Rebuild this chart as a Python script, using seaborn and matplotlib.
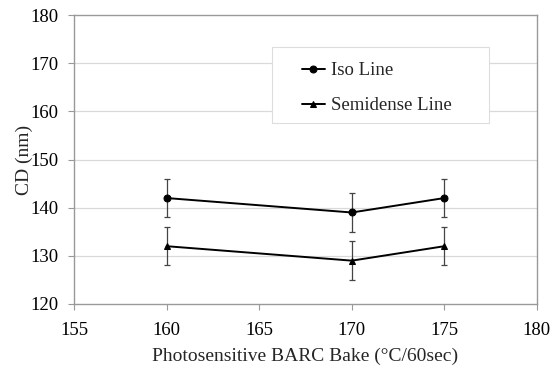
import matplotlib
matplotlib.use("Agg")
import matplotlib.pyplot as plt
from matplotlib.patches import Rectangle
import seaborn as sns
import pandas as pd

bake = [160, 170, 175]
iso_cd = [142, 139, 142]
semi_cd = [132, 129, 132]
iso_err = [4, 4, 4]
semi_err = [4, 4, 4]
series_names = ["Iso Line", "Semidense Line"]
xticks = [155, 160, 165, 170, 175, 180]
yticks = [120, 130, 140, 150, 160, 170, 180]

sns.set_theme(style="white")
plt.rcParams['font.family'] = ['Liberation Serif', 'DejaVu Serif']

df = pd.DataFrame({
    "bake": bake * 2,
    "cd": iso_cd + semi_cd,
    "series": [series_names[0]] * 3 + [series_names[1]] * 3,
})

fig = plt.figure(figsize=(5.53, 3.67), dpi=100)
ax = fig.add_axes([0.1338, 0.1717, 0.8372, 0.7873])

for y in yticks[1:-1]:
    ax.axhline(y, color="#d9d9d9", lw=0.9, zorder=0)

ax.errorbar(bake, iso_cd, yerr=iso_err, fmt="none", ecolor="#444444", elinewidth=0.9, capsize=2, capthick=0.9, zorder=2)
ax.errorbar(bake, semi_cd, yerr=semi_err, fmt="none", ecolor="#444444", elinewidth=0.9, capsize=2, capthick=0.9, zorder=2)

sns.lineplot(data=df, x="bake", y="cd", style="series", markers={series_names[0]: "o", series_names[1]: "^"},
             dashes=False, color="black", lw=1.4, markersize=5, markeredgecolor="black", ax=ax, zorder=3)

ax.set_xlim(155, 180)
ax.set_ylim(120, 180)
ax.set_xticks(xticks)
ax.set_yticks(yticks)
ax.tick_params(axis="both", labelsize=13.5, labelcolor="black", color="#999999", length=4, width=0.8,
               direction="out", bottom=True, left=True)
ax.tick_params(axis="y", pad=7)
ax.tick_params(axis="x", pad=9)
ax.set_xlabel("Photosensitive BARC Bake (°C/60sec)", fontsize=14, labelpad=6)
ax.set_ylabel("CD (nm)", fontsize=14, labelpad=-2)
for s in ax.spines.values():
    s.set_color("#999999")
    s.set_linewidth(1.0)

# legend box
ax.add_patch(Rectangle((0.4276, 0.6263), 0.4687, 0.263, transform=ax.transAxes,
                       facecolor="white", edgecolor="#dddddd", lw=0.8, zorder=4))

leg = ax.legend(loc="upper left", bbox_to_anchor=(302 / 553, (367 - 62) / 367),
                bbox_transform=fig.transFigure, fontsize=13.5, frameon=False,
                handlelength=1.2, borderpad=0, labelspacing=0.95, handletextpad=0.35, borderaxespad=0)
leg.set_zorder(5)
for line in leg.get_lines():
    line.set_markersize(5)
    line.set_linewidth(1.4)

fig.savefig("out.png", dpi=100)
